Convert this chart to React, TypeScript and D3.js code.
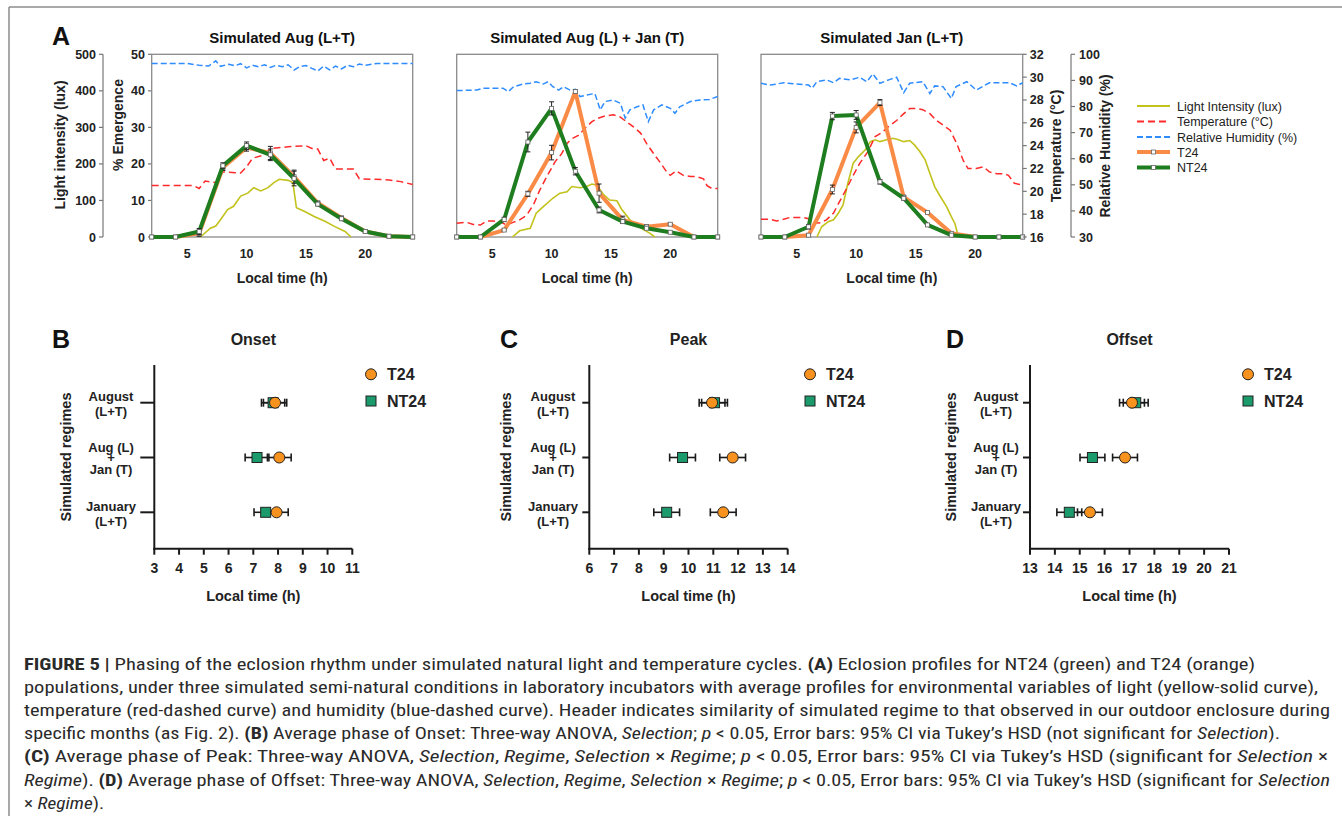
import React from "react";
import * as d3 from "d3";

// ---------- Panel A data ----------
const hours = [2, 4, 6, 8, 10, 12, 14, 16, 18, 20, 22, 24];

const augT24 = [0, 0, 1, 19, 24.5, 23, 16.5, 9.3, 5.2, 1.5, 0.2, 0];
const augT24Err = [0, 0, 0.8, 0.8, 1, 1.8, 1.8, 0.5, 0.5, 0, 0, 0];
const augNT24 = [0, 0, 1.5, 19.5, 25, 22.5, 16, 9, 5, 1.5, 0.2, 0];
const augNT24Err = [0, 0, 0.8, 0.8, 1, 1.6, 2, 0.5, 0.5, 0, 0, 0];

const mixT24 = [0, 0, 1.9, 11.8, 23.1, 39.8, 12, 4.7, 2.8, 3.5, 0, 0];
const mixT24Err = [0, 0, 0.3, 0.7, 2, 0.5, 2.5, 1, 0.5, 0.3, 0, 0];
const mixNT24 = [0, 0, 4.8, 26, 35.2, 18, 7.4, 4.2, 2.4, 1.3, 0, 0];
const mixNT24Err = [0, 0, 0.6, 2.7, 1.8, 1, 0.8, 0.5, 0, 0, 0, 0];

const janT24 = [0, 0, 0.5, 13, 30, 36.8, 10.9, 6.7, 1, 0, 0, 0];
const janT24Err = [0, 0, 0.3, 1.2, 1.5, 0.8, 0.5, 0.3, 0, 0, 0, 0];
const janNT24 = [0, 0, 2.8, 33.1, 33.4, 15.1, 10.6, 3.3, 0.5, 0, 0, 0];
const janNT24Err = [0, 0, 0.6, 1, 1.2, 0.6, 0.5, 0.3, 0, 0, 0, 0];

// environmental profiles: [hour, value]
const augLight: [number, number][] = [
  [6.1, 0], [6.95, 24], [7.4, 30], [7.8, 47], [8.4, 75], [8.9, 84], [9.5, 112], [10.1, 120],
  [10.6, 135], [11.2, 126], [11.8, 135], [12.3, 149], [12.75, 158], [13.5, 155], [13.9, 149],
  [14.2, 80], [14.9, 70], [15.7, 56], [16.6, 43], [17.4, 29], [18.3, 15], [18.8, 0],
];
const augTemp: [number, number][] = [
  [2, 20.5], [5.5, 20.5], [6, 20.25], [6.5, 20.9], [7.5, 20.75], [8, 21.7], [9.5, 21.6],
  [10, 22.15], [10.5, 22.9], [11.5, 23.2], [12, 23.75], [13.5, 23.9], [15, 24], [15.5, 23.75],
  [16, 23.7], [16.5, 22.7], [17, 22.9], [17.5, 21.95], [19, 21.95], [19.5, 21.1], [22, 21],
  [23, 20.85], [24, 20.6],
];
const augRH: [number, number][] = [
  [2, 96.5], [5, 96.5], [6, 95.8], [6.8, 95.5], [7.4, 97.5], [7.8, 95.4], [8.5, 96.2], [9, 95.6],
  [9.5, 96.4], [10, 94.8], [10.5, 95.8], [11, 95.2], [11.5, 96], [12, 95], [12.5, 95.8], [13, 95.2],
  [13.5, 96], [14, 94], [14.5, 95.3], [15, 95.7], [15.5, 94.6], [16, 93.6], [16.5, 95.5], [17, 94],
  [17.5, 95.5], [18, 94.4], [18.5, 95.8], [19, 95.2], [19.5, 96.3], [20, 95.8], [21, 96.5], [24, 96.5],
];

const mixLight: [number, number][] = [
  [6.7, 0], [7.3, 17], [8.2, 24], [8.7, 65], [9.3, 83], [10.1, 106], [10.7, 120], [11.3, 124],
  [11.7, 138], [12.4, 135], [12.95, 138], [13.4, 145], [13.8, 142], [14.4, 115], [14.9, 101],
  [15.5, 99], [15.9, 76], [16.6, 47], [17.2, 33], [17.7, 21], [18.3, 10], [18.7, 0],
];
const mixTemp: [number, number][] = [
  [2, 17.2], [2.8, 17.3], [3.4, 17.1], [4, 17.05], [4.5, 17.4], [5.1, 17.4], [5.65, 17.35],
  [6.2, 17.05], [6.8, 17.3], [7.3, 17.5], [7.9, 17.9], [8.5, 18.9], [9, 20.1], [9.6, 21.3],
  [10.3, 22.6], [10.85, 23.3], [11.3, 24.2], [11.7, 24.6], [12.25, 24.9], [12.8, 25.5],
  [13.4, 26.1], [13.9, 26.4], [14.5, 26.6], [15.2, 26.7], [15.8, 26.5], [16.3, 26.1],
  [16.9, 25.65], [17.5, 25.1], [18, 24.2], [18.6, 23.3], [19.1, 22.6], [19.7, 21.7], [20, 21.4],
  [20.5, 21.8], [21.1, 21.4], [21.7, 21.3], [22.2, 21.3], [22.8, 21.1], [23.1, 20.5],
  [23.5, 20.25], [24, 20.25],
];
const mixRH: [number, number][] = [
  [2, 86.1], [3.7, 86.3], [4.2, 87], [5.9, 87], [6.35, 85.7], [6.8, 87.6], [7.6, 88.6], [8.2, 88.9],
  [8.7, 89.5], [9.3, 88.6], [9.7, 89.5], [10.1, 87.6], [10.6, 86.3], [11, 87.6], [11.55, 86.3],
  [12, 86.6], [12.4, 83.8], [12.95, 84.4], [13.65, 85], [14.1, 78.7], [14.5, 81.9], [15.2, 82.5],
  [15.8, 81.2], [16.2, 75.5], [16.6, 78.7], [17.2, 79.9], [17.7, 80.6], [18.15, 74.2],
  [18.6, 78.7], [19.3, 80.6], [20, 79.3], [20.4, 77.4], [20.8, 79.9], [21.7, 81.9], [22.5, 82.5],
  [23.3, 82.7], [24, 83.8],
];

const janLight: [number, number][] = [
  [6.7, 0], [7.1, 28], [7.65, 42], [8.1, 47], [8.5, 65], [8.9, 88], [9.3, 147], [9.75, 202],
  [10.2, 220], [10.75, 238], [11.2, 261], [11.6, 266], [12, 261], [12.55, 266], [13.1, 270],
  [13.5, 267], [14, 261], [14.5, 264], [14.9, 252], [15.35, 234], [15.8, 211], [16.2, 174],
  [16.6, 138], [17, 115], [17.6, 83], [18, 56], [18.3, 37], [18.6, 0],
];
const janTemp: [number, number][] = [
  [2, 17.55], [2.75, 17.55], [3.3, 17.4], [3.9, 17.55], [4.4, 17.7], [5.55, 17.7], [6, 17.6],
  [6.4, 17.2], [7, 17.25], [7.5, 17.5], [8.1, 18.1], [8.6, 19.1], [9.2, 20.25], [9.75, 21.4],
  [10.3, 22.45], [11, 23.5], [11.6, 24.8], [12.1, 25.1], [12.7, 25.65], [13.4, 26.2], [14, 26.8],
  [14.5, 27.25], [15.1, 27.25], [15.6, 27.15], [16.2, 26.8], [16.75, 26.2], [17.3, 25.8],
  [17.9, 25.35], [18.45, 24.2], [19, 22.7], [19.4, 22], [20.1, 22], [20.7, 22.15], [21.2, 21.7],
  [21.8, 21.55], [22.4, 21.55], [22.8, 21.4], [23.3, 20.7], [24, 20.55],
];
const janRH: [number, number][] = [
  [2, 88.9], [2.8, 88.2], [3.9, 89.1], [5, 88.6], [6, 88.2], [6.3, 87], [6.7, 89.5], [7.5, 90.2],
  [8.1, 89.1], [8.6, 90.8], [9.5, 90.2], [10.3, 91.2], [10.9, 89.5], [11.4, 92.5], [12, 88.9],
  [12.85, 90.4], [13.4, 91.2], [14, 85.3], [14.5, 88.9], [15.6, 89.5], [16.2, 85], [16.6, 87.9],
  [17.3, 87.6], [18, 83.1], [18.4, 87.6], [19.3, 89.5], [20.1, 86.3], [21.2, 89.1], [22.9, 89.1],
  [23.5, 87.9], [24, 89.1],
];

const titlesA = ["Simulated Aug (L+T)", "Simulated Aug (L) + Jan (T)", "Simulated Jan (L+T)"];
const hourTicks = [5, 10, 15, 20];
const pctTicks = [0, 10, 20, 30, 40, 50];
const luxTicks = [0, 100, 200, 300, 400, 500];
const tempTicks = [16, 18, 20, 22, 24, 26, 28, 30, 32];
const rhTicks = [30, 40, 50, 60, 70, 80, 90, 100];

// ---------- Panels B-D data (local time, h) ----------
const regimes = ["August", "AugJan", "January"];
const onsetT24 = [7.88, 8.05, 7.94];
const onsetNT24 = [7.8, 7.15, 7.5];
const onsetCI = [0.47, 0.48, 0.47];
const peakT24 = [10.95, 11.78, 11.4];
const peakNT24 = [11.05, 9.76, 9.12];
const peakCI = [0.52, 0.52, 0.52];
const offsetT24 = [17.1, 16.82, 15.41];
const offsetNT24 = [17.25, 15.51, 14.58];
const offsetCI = [0.5, 0.5, 0.5];

const FONT = "'Liberation Sans', Arial, Helvetica, sans-serif";
const CAP_FONT = "'Liberation Sans Narrow', 'Roboto Condensed', Roboto, 'Liberation Sans', sans-serif";

const ORANGE_A = "#F98B47";
const GREEN_A = "#1E7D1E";
const YELLOW = "#C2C21C";
const RED = "#FF2A2A";
const BLUE = "#2E8CFF";
const ORANGE = "#F7921E";
const GREEN = "#1B9A6B";

const A_TOP = 54.3;
const A_BOT = 237;

type SubProps = {
  x0: number;
  x1: number;
  title: string;
  t24: number[];
  t24Err: number[];
  nt24: number[];
  nt24Err: number[];
  light: [number, number][];
  temp: [number, number][];
  rh: [number, number][];
};

function EmergencePlot({ x0, x1, title, t24, t24Err, nt24, nt24Err, light, temp, rh }: SubProps) {
  const x = d3.scaleLinear().domain([2, 24]).range([x0, x1]);
  const yP = d3.scaleLinear().domain([0, 50]).range([A_BOT, A_TOP]);
  const yL = d3.scaleLinear().domain([0, 500]).range([A_BOT, A_TOP]);
  const yT = d3.scaleLinear().domain([16, 32]).range([A_BOT, A_TOP]);
  const yH = d3.scaleLinear().domain([30, 100]).range([A_BOT, A_TOP]);

  const envLine = (ys: d3.ScaleLinear<number, number>) =>
    d3.line<[number, number]>().x((d) => x(d[0])).y((d) => ys(d[1]));
  const emLine = d3.line<number>().x((_, i) => x(hours[i])).y((d) => yP(d));

  const series = [
    { vals: t24, err: t24Err, color: ORANGE_A },
    { vals: nt24, err: nt24Err, color: GREEN_A },
  ];

  return (
    <g>
      <rect x={x0} y={A_TOP} width={x1 - x0} height={A_BOT - A_TOP} fill="none" stroke="#8a8a8a" strokeWidth={1.3} />
      <path d={envLine(yL)(light) || ""} fill="none" stroke={YELLOW} strokeWidth={1.6} />
      <path d={envLine(yT)(temp) || ""} fill="none" stroke={RED} strokeWidth={1.5} strokeDasharray="7,4" />
      <path d={envLine(yH)(rh) || ""} fill="none" stroke={BLUE} strokeWidth={1.5} strokeDasharray="6,3" />
      {series.map((s, k) => (
        <g key={k}>
          <path d={emLine(s.vals) || ""} fill="none" stroke={s.color} strokeWidth={4} strokeLinejoin="round" />
          {s.vals.map((v, i) =>
            s.err[i] > 0 ? (
              <g key={"e" + i} stroke="#222" strokeWidth={1}>
                <line x1={x(hours[i])} x2={x(hours[i])} y1={yP(v - s.err[i])} y2={yP(v + s.err[i])} />
                <line x1={x(hours[i]) - 2.5} x2={x(hours[i]) + 2.5} y1={yP(v - s.err[i])} y2={yP(v - s.err[i])} />
                <line x1={x(hours[i]) - 2.5} x2={x(hours[i]) + 2.5} y1={yP(v + s.err[i])} y2={yP(v + s.err[i])} />
              </g>
            ) : null
          )}
          {s.vals.map((v, i) => (
            <rect key={"m" + i} x={x(hours[i]) - 2} y={yP(v) - 2} width={4} height={4} fill="#fff" stroke="#666" strokeWidth={0.8} />
          ))}
        </g>
      ))}
      <text x={(x0 + x1) / 2} y={43} textAnchor="middle" fontSize={15} fontWeight="bold" fill="#111">
        {title}
      </text>
      {hourTicks.map((t) => (
        <text key={t} x={x(t)} y={258} textAnchor="middle" fontSize={12.5} fontWeight="bold" fill="#222">
          {t}
        </text>
      ))}
      <text x={(x0 + x1) / 2} y={283} textAnchor="middle" fontSize={14} fontWeight="bold" fill="#222">
        Local time (h)
      </text>
    </g>
  );
}

function PanelA() {
  const subs = [
    { x0: 151.7, x1: 412.7, t24: augT24, t24Err: augT24Err, nt24: augNT24, nt24Err: augNT24Err, light: augLight, temp: augTemp, rh: augRH },
    { x0: 456.7, x1: 717.7, t24: mixT24, t24Err: mixT24Err, nt24: mixNT24, nt24Err: mixNT24Err, light: mixLight, temp: mixTemp, rh: mixRH },
    { x0: 761, x1: 1022.7, t24: janT24, t24Err: janT24Err, nt24: janNT24, nt24Err: janNT24Err, light: janLight, temp: janTemp, rh: janRH },
  ];
  const yP = d3.scaleLinear().domain([0, 50]).range([A_BOT, A_TOP]);
  const yL = d3.scaleLinear().domain([0, 500]).range([A_BOT, A_TOP]);
  const yT = d3.scaleLinear().domain([16, 32]).range([A_BOT, A_TOP]);
  const yH = d3.scaleLinear().domain([30, 100]).range([A_BOT, A_TOP]);
  const tx = 1022.7;
  const hx = 1071;

  const legend = [
    { label: "Light Intensity (lux)", color: YELLOW, dash: "", w: 1.8, mark: false },
    { label: "Temperature (°C)", color: RED, dash: "7,4", w: 1.8, mark: false },
    { label: "Relative Humidity (%)", color: BLUE, dash: "6,3", w: 1.8, mark: false },
    { label: "T24", color: ORANGE_A, dash: "", w: 4, mark: true },
    { label: "NT24", color: GREEN_A, dash: "", w: 4, mark: true },
  ];
  const legY = [106, 121.5, 137, 152, 167.5];

  return (
    <g fontFamily={FONT}>
      <text x={52} y={45} fontSize={25} fontWeight="bold" fill="#111">A</text>
      {/* light axis */}
      <line x1={103} x2={103} y1={A_TOP} y2={A_BOT} stroke="#777" strokeWidth={1.2} />
      {luxTicks.map((t) => (
        <g key={t}>
          <line x1={99} x2={103} y1={yL(t)} y2={yL(t)} stroke="#777" strokeWidth={1.2} />
          <text x={96} y={yL(t) + 4.5} textAnchor="end" fontSize={12.5} fontWeight="bold" fill="#222">{t}</text>
        </g>
      ))}
      <text transform="translate(65,145) rotate(-90)" textAnchor="middle" fontSize={14} fontWeight="bold" fill="#222">
        Light intensity (lux)
      </text>
      {/* emergence axis */}
      {pctTicks.map((t) => (
        <g key={t}>
          <line x1={148} x2={151.7} y1={yP(t)} y2={yP(t)} stroke="#777" strokeWidth={1.2} />
          <text x={145} y={yP(t) + 4.5} textAnchor="end" fontSize={12.5} fontWeight="bold" fill="#222">{t}</text>
        </g>
      ))}
      <text transform="translate(123,125) rotate(-90)" textAnchor="middle" fontSize={14} fontWeight="bold" fill="#222">
        % Emergence
      </text>
      {subs.map((s, i) => (
        <EmergencePlot key={i} title={titlesA[i]} {...s} />
      ))}
      {/* temperature axis */}
      {tempTicks.map((t) => (
        <g key={t}>
          <line x1={tx} x2={tx + 4} y1={yT(t)} y2={yT(t)} stroke="#777" strokeWidth={1.2} />
          <text x={tx + 7} y={yT(t) + 4.5} fontSize={12.5} fontWeight="bold" fill="#222">{t}</text>
        </g>
      ))}
      <text transform="translate(1061,146) rotate(-90)" textAnchor="middle" fontSize={14} fontWeight="bold" fill="#222">
        Temperature (°C)
      </text>
      {/* humidity axis */}
      <line x1={hx} x2={hx} y1={A_TOP} y2={A_BOT} stroke="#777" strokeWidth={1.2} />
      {rhTicks.map((t) => (
        <g key={t}>
          <line x1={hx} x2={hx + 4} y1={yH(t)} y2={yH(t)} stroke="#777" strokeWidth={1.2} />
          <text x={hx + 8} y={yH(t) + 4.5} fontSize={12.5} fontWeight="bold" fill="#222">{t}</text>
        </g>
      ))}
      <text transform="translate(1110,146) rotate(-90)" textAnchor="middle" fontSize={14} fontWeight="bold" fill="#222">
        Relative Humidity (%)
      </text>
      {/* legend */}
      {legend.map((l, i) => (
        <g key={l.label}>
          <line x1={1137} x2={1170} y1={legY[i]} y2={legY[i]} stroke={l.color} strokeWidth={l.w} strokeDasharray={l.dash || undefined} />
          {l.mark && <rect x={1151.5} y={legY[i] - 2} width={4} height={4} fill="#fff" stroke="#666" strokeWidth={0.8} />}
          <text x={1177} y={legY[i] + 4.5} fontSize={12.5} fill="#222">{l.label}</text>
        </g>
      ))}
    </g>
  );
}

type PhaseProps = {
  letter: string;
  letterX: number;
  title: string;
  x0: number;
  x1: number;
  domain: [number, number];
  labelX: number;
  tickLen: number;
  yLabelX: number;
  legX: number;
  t24: number[];
  nt24: number[];
  ci: number[];
};

// category label lines: [text, offset from category centre]
const regimeLabels: Record<string, [string, number][]> = {
  August: [["August", -1.7], ["(L+T)", 13.3]],
  AugJan: [["Aug (L)", -5.6], ["+", 4.5], ["Jan (T)", 16]],
  January: [["January", -1.7], ["(L+T)", 13.3]],
};

function PhasePanel(p: PhaseProps) {
  const x = d3.scaleLinear().domain(p.domain).range([p.x0, p.x1]);
  const y = d3.scalePoint<string>().domain(regimes).range([402.7, 512.3]);
  const top = 365;
  const bot = 548.7;
  const ticks = d3.range(p.domain[0], p.domain[1] + 1);
  const bar = (v: number, c: number, yc: number, key: string) => (
    <g key={key} stroke="#1a1a1a" strokeWidth={1.6}>
      <line x1={x(v - c)} x2={x(v + c)} y1={yc} y2={yc} />
      <line x1={x(v - c)} x2={x(v - c)} y1={yc - 4} y2={yc + 4} />
      <line x1={x(v + c)} x2={x(v + c)} y1={yc - 4} y2={yc + 4} />
    </g>
  );
  return (
    <g fontFamily={FONT}>
      <text x={p.letterX} y={348} fontSize={25} fontWeight="bold" fill="#111">{p.letter}</text>
      <text x={(p.x0 + p.x1) / 2} y={345} textAnchor="middle" fontSize={16} fontWeight="bold" fill="#222">{p.title}</text>
      <line x1={p.x0} x2={p.x0} y1={top} y2={bot + 1} stroke="#1a1a1a" strokeWidth={2} />
      <line x1={p.x0 - 1} x2={p.x1} y1={bot} y2={bot} stroke="#1a1a1a" strokeWidth={2} />
      {ticks.map((t) => (
        <g key={t}>
          <line x1={x(t)} x2={x(t)} y1={bot} y2={bot + 6} stroke="#1a1a1a" strokeWidth={2} />
          <text x={x(t)} y={573} textAnchor="middle" fontSize={14} fontWeight="bold" fill="#222">{t}</text>
        </g>
      ))}
      <text x={(p.x0 + p.x1) / 2} y={601} textAnchor="middle" fontSize={14.5} fontWeight="bold" fill="#222">Local time (h)</text>
      <text transform={`translate(${p.yLabelX},457) rotate(-90)`} textAnchor="middle" dominantBaseline="central" fontSize={14.5} fontWeight="bold" fill="#222">
        Simulated regimes
      </text>
      {regimes.map((r) => {
        const yc = y(r) as number;
        const lines = regimeLabels[r];
        return (
          <g key={r}>
            <line x1={p.x0 - p.tickLen} x2={p.x0} y1={yc} y2={yc} stroke="#1a1a1a" strokeWidth={2} />
            <text x={p.labelX} y={yc + lines[0][1]} textAnchor="middle" fontSize={13} fontWeight="bold" fill="#222">
              {lines.map(([s, off], k) => (
                <tspan key={k} x={p.labelX} dy={k === 0 ? 0 : off - lines[k - 1][1]}>{s}</tspan>
              ))}
            </text>
          </g>
        );
      })}
      {regimes.map((r, i) => bar(p.nt24[i], p.ci[i], y(r) as number, "bn" + i))}
      {regimes.map((r, i) => bar(p.t24[i], p.ci[i], y(r) as number, "bt" + i))}
      {regimes.map((r, i) => (
        <rect key={"sq" + i} x={x(p.nt24[i]) - 5} y={(y(r) as number) - 5} width={10} height={10} fill={GREEN} stroke="#222" strokeWidth={1} />
      ))}
      {regimes.map((r, i) => (
        <circle key={"c" + i} cx={x(p.t24[i])} cy={y(r) as number} r={5.5} fill={ORANGE} stroke="#222" strokeWidth={1} />
      ))}
      <circle cx={p.legX} cy={374.3} r={5.5} fill={ORANGE} stroke="#222" strokeWidth={1} />
      <text x={p.legX + 16} y={380} fontSize={16} fontWeight="bold" fill="#222">T24</text>
      <rect x={p.legX - 5} y={396} width={10} height={10} fill={GREEN} stroke="#222" strokeWidth={1} />
      <text x={p.legX + 16} y={407} fontSize={16} fontWeight="bold" fill="#222">NT24</text>
    </g>
  );
}

type Seg = [string, string];
const captionLines: Seg[][] = [
  [["FIGURE 5 | ", "b"], ["Phasing of the eclosion rhythm under simulated natural light and temperature cycles. ", ""], ["(A)", "b"], [" Eclosion profiles for NT24 (green) and T24 (orange)", ""]],
  [["populations, under three simulated semi-natural conditions in laboratory incubators with average profiles for environmental variables of light (yellow-solid curve),", ""]],
  [["temperature (red-dashed curve) and humidity (blue-dashed curve). Header indicates similarity of simulated regime to that observed in our outdoor enclosure during", ""]],
  [["specific months (as Fig. 2). ", ""], ["(B)", "b"], [" Average phase of Onset: Three-way ANOVA, ", ""], ["Selection", "i"], ["; ", ""], ["p", "i"], [" < 0.05, Error bars: 95% CI via Tukey\u2019s HSD (not significant for ", ""], ["Selection", "i"], [").", ""]],
  [["(C)", "b"], [" Average phase of Peak: Three-way ANOVA, ", ""], ["Selection", "i"], [", ", ""], ["Regime", "i"], [", ", ""], ["Selection", "i"], [" \u00d7 ", ""], ["Regime", "i"], ["; ", ""], ["p", "i"], [" < 0.05, Error bars: 95% CI via Tukey\u2019s HSD (significant for ", ""], ["Selection", "i"], [" \u00d7", ""]],
  [["Regime", "i"], ["). ", ""], ["(D)", "b"], [" Average phase of Offset: Three-way ANOVA, ", ""], ["Selection", "i"], [", ", ""], ["Regime", "i"], [", ", ""], ["Selection", "i"], [" \u00d7 ", ""], ["Regime", "i"], ["; ", ""], ["p", "i"], [" < 0.05, Error bars: 95% CI via Tukey\u2019s HSD (significant for ", ""], ["Selection", "i"]],
  [["\u00d7 ", ""], ["Regime", "i"], [").", ""]],
];
const captionEnds = [1255, 1318, 1330, 1280, 1328, 1330, 104];

function Caption() {
  const x0 = 24;
  return (
    <g fontFamily={CAP_FONT} fontSize={17} fill="#2a2a2a">
      {captionLines.map((segs, i) => (
        <text key={i} x={x0} y={670 + i * 23.1} textLength={captionEnds[i] - x0} lengthAdjust="spacingAndGlyphs">
          {segs.map(([s, st], j) => (
            <tspan key={j} fontWeight={st === "b" ? "bold" : "normal"} fontStyle={st === "i" ? "italic" : "normal"}>
              {s}
            </tspan>
          ))}
        </text>
      ))}
    </g>
  );
}

export default function App() {
  return (
    <svg
      width={1342}
      height={816}
      style={{ position: "absolute", left: 0, top: 0, display: "block", background: "#fff" }}
    >
      <rect width={1342} height={816} fill="#fff" />
      <line x1={9} x2={1342} y1={7} y2={7} stroke="#8c8c8c" strokeWidth={1.5} />
      <line x1={9} x2={9} y1={7} y2={816} stroke="#8c8c8c" strokeWidth={1.5} />
      <PanelA />
      <PhasePanel letter="B" letterX={52} title="Onset" x0={154.3} x1={352.3} domain={[3, 11]} labelX={111} tickLen={14} yLabelX={66} legX={371} t24={onsetT24} nt24={onsetNT24} ci={onsetCI} />
      <PhasePanel letter="C" letterX={500} title="Peak" x0={589.3} x1={787.7} domain={[6, 14]} labelX={553} tickLen={7} yLabelX={506} legX={810} t24={peakT24} nt24={peakNT24} ci={peakCI} />
      <PhasePanel letter="D" letterX={946} title="Offset" x0={1030} x1={1229} domain={[13, 21]} labelX={996} tickLen={7} yLabelX={951} legX={1248} t24={offsetT24} nt24={offsetNT24} ci={offsetCI} />
      <Caption />
    </svg>
  );
}
